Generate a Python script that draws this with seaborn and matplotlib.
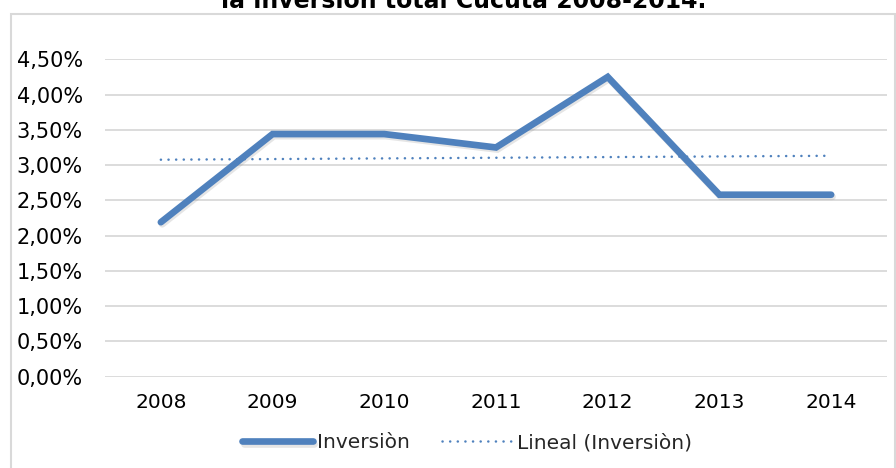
import numpy as np
import pandas as pd
import matplotlib
matplotlib.use("Agg")
import matplotlib.pyplot as plt
import matplotlib.patheffects as pe
from matplotlib.ticker import FuncFormatter
import seaborn as sns

# Share of total investment, Cúcuta 2008-2014 (percent)
years = [2008, 2009, 2010, 2011, 2012, 2013, 2014]
inversion = [2.19, 3.44, 3.44, 3.25, 4.25, 2.58, 2.58]
y_ticks = [0.0, 0.5, 1.0, 1.5, 2.0, 2.5, 3.0, 3.5, 4.0, 4.5]

title_text = "la inversión total Cúcuta 2008-2014."
series_label = "Inversiòn"
trend_label = "Lineal (Inversiòn)"

sns.set_theme(style="white")
plt.rcParams["font.family"] = ["DejaVu Sans"]

BLUE = "#4F81BD"
GRID = "#D9D9D9"

df = pd.DataFrame({"year": years, "value": inversion})
idx = np.arange(len(years))
coef = np.polyfit(idx, df["value"].to_numpy(), 1)
df["trend"] = np.polyval(coef, idx)

fig = plt.figure(figsize=(8.96, 4.68), dpi=100)
ax = fig.add_axes([105 / 896, 91.3 / 468, 782 / 896, 317.4 / 468])

# chart frame
fig.add_artist(plt.Rectangle((11 / 896, -0.05), 884 / 896, 1 - 14 / 468 + 0.05,
                             transform=fig.transFigure, fill=False,
                             edgecolor=GRID, linewidth=1.5))

shadow = [pe.SimpleLineShadow(offset=(1.0, -1.5), shadow_color="#8a8a8a", alpha=0.22),
          pe.Normal()]

sns.lineplot(data=df, x="year", y="value", ax=ax, color=BLUE, linewidth=4.8,
             label=series_label, solid_capstyle="round", solid_joinstyle="miter")
ax.lines[-1].set_path_effects(shadow)
sns.lineplot(data=df, x="year", y="trend", ax=ax, color=BLUE, linewidth=1.8,
             linestyle=(0, (0.05, 3.0)), dash_capstyle="round", label=trend_label)

ax.set_xlim(years[0] - 0.5, years[-1] + 0.5)
ax.set_ylim(y_ticks[0], y_ticks[-1])
ax.set_xticks(years)
ax.set_xticklabels([str(y) for y in years])
ax.set_yticks(y_ticks)
ax.yaxis.set_major_formatter(FuncFormatter(lambda v, p: f"{v:.2f}%".replace(".", ",")))
ax.grid(axis="y", color=GRID, linewidth=1.3)
ax.grid(axis="x", visible=False)
for s in ax.spines.values():
    s.set_visible(False)
ax.tick_params(axis="both", length=0, labelcolor="#000000")
ax.tick_params(axis="y", pad=16, labelsize=15)
ax.tick_params(axis="x", pad=12, labelsize=14.5)
ax.set_xlabel("")
ax.set_ylabel("")

ax.legend(loc="center", bbox_to_anchor=(467 / 896, 25 / 468),
          bbox_transform=fig.transFigure, ncol=2, frameon=False,
          fontsize=14.5, handlelength=3.5, handletextpad=0.2, columnspacing=1.6)

fig.text(464 / 896, 1 - 8 / 468, title_text, ha="center", va="baseline",
         fontsize=17, fontweight="bold", color="#000000")

fig.savefig("out.png", dpi=100)
